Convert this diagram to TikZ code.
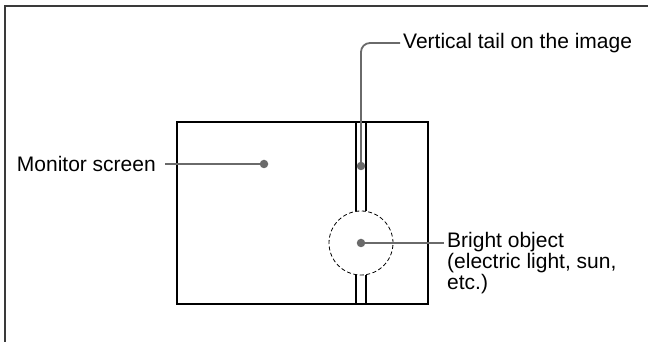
\documentclass[tikz,border=0pt]{standalone}
\usepackage{fontspec}
\setmainfont{Liberation Sans}
\usepackage{tikz}
\usetikzlibrary{positioning, calc}
\definecolor{leadgray}{HTML}{6A6A6A}
\definecolor{framegray}{HTML}{3A3A3A}

\begin{document}
\begin{tikzpicture}[x=1pt, y=1pt,
        lbl/.style={inner sep=3pt, align=left, font=\fontsize{21}{18.5}\selectfont, text=black},
        dot/.style={circle, fill=leadgray, inner sep=0pt, minimum size=8.5pt},
        leader/.style={leadgray, line width=1.8pt},
        screen/.style={draw=black, line width=2pt},
        tail/.style={black, line width=1.1pt}
    ]
        \useasboundingbox (0,0) rectangle (648,342);
        \draw[framegray, line width=1.5pt] (5,0) -- (5,336) -- (648,336);

        \node (scr) [screen, minimum width=251pt, minimum height=182pt, inner sep=0pt] at (302.5,129) {};
        \node (glare) [circle, draw, dash pattern=on 4pt off 2.5pt, line width=0.8pt, minimum size=64pt, inner sep=0pt] at (361,99) {};

        \draw[tail] (356,220) -- (356,130.6);
        \draw[tail] (366,220) -- (366,130.6);
        \draw[tail] (356,67.4) -- (356,38);
        \draw[tail] (366,67.4) -- (366,38);

        \node (scrdot) [dot] at (264,178) {};
        \node (taildot) [dot] at (361,176) {};
        \node (glaredot) [dot] at (glare.center) {};

        \node (monitorlbl) [lbl, anchor=east, inner xsep=9pt] at (165,178) {Monitor screen};
        \node (taillbl) [lbl, anchor=west] at (400,299) {Vertical tail on the image};
        \node (brightlbl) [lbl, anchor=west] at (444,79) {Bright object\\(electric light, sun,\\etc.)};

        \draw[leader] (monitorlbl.east) -- (scrdot.center);
        \draw[leader, rounded corners=9pt] (taildot.center) |- (taillbl.west);
        \draw[leader] (glaredot.center) -- (brightlbl.west |- glaredot);
    \end{tikzpicture}
\end{document}
